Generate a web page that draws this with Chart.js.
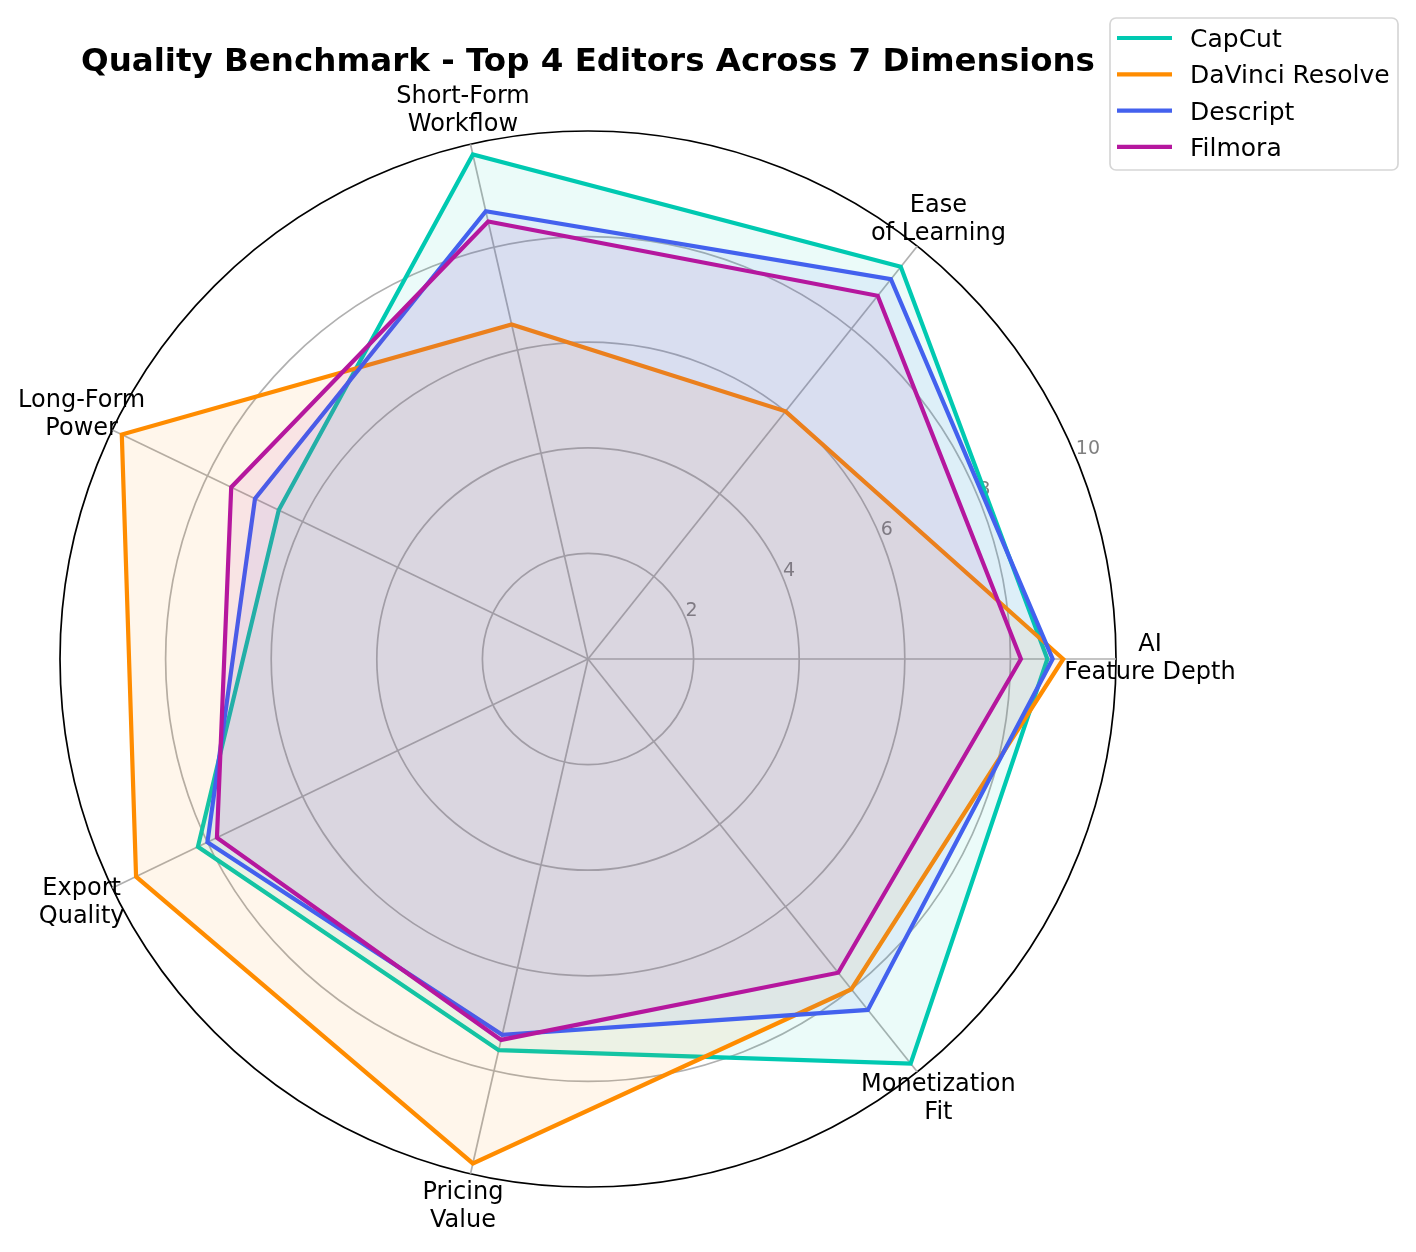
<!DOCTYPE html>
<html>
<head>
<meta charset="utf-8">
<script src="https://cdn.jsdelivr.net/npm/chart.js@4.4.0/dist/chart.umd.min.js"></script>
<style>
  html, body { margin: 0; padding: 0; background: #fff; }
  canvas { display: block; }
</style>
</head>
<body>
<canvas id="chart" width="1416" height="1252"></canvas>
<script>
var title = "Quality Benchmark - Top 4 Editors Across 7 Dimensions";
var dimensions = [
  ["AI", "Feature Depth"],
  ["Ease", "of Learning"],
  ["Short-Form", "Workflow"],
  ["Long-Form", "Power"],
  ["Export", "Quality"],
  ["Pricing", "Value"],
  ["Monetization", "Fit"]
];
var editors = ["CapCut", "DaVinci Resolve", "Descript", "Filmora"];
var capcut = [8.7, 9.5, 9.8, 6.5, 8.2, 7.6, 9.8];
var davinci = [9.0, 6.0, 6.5, 9.8, 9.5, 9.8, 8.0];
var descript = [8.8, 9.2, 8.7, 7.0, 8.0, 7.3, 8.5];
var filmora = [8.2, 8.8, 8.5, 7.5, 7.8, 7.4, 7.6];
var tickValues = [2, 4, 6, 8, 10];

var colors = ["#00C9B1", "#FF8C00", "#4361EE", "#B5179E"];
var fills = ["rgba(0,201,177,0.08)", "rgba(255,140,0,0.08)", "rgba(67,97,238,0.08)", "rgba(181,23,158,0.08)"];

// chart.js goes clockwise from the start angle, the original goes counter-clockwise
var order = [0, 6, 5, 4, 3, 2, 1];
function reorder(arr) {
  return order.map(function (i) { return arr[i]; });
}

Chart.defaults.font.family = "'DejaVu Sans', sans-serif";

var series = [capcut, davinci, descript, filmora];
var datasets = series.map(function (values, i) {
  return {
    label: editors[i],
    data: reorder(values),
    borderColor: colors[i],
    backgroundColor: fills[i],
    borderWidth: 4.2,
    pointRadius: 0,
    fill: true,
    order: series.length - i
  };
});

var decorations = {
  id: "decorations",
  beforeDraw: function (chart) {
    var ctx = chart.ctx;
    ctx.save();
    ctx.fillStyle = "#fff";
    ctx.fillRect(0, 0, chart.width, chart.height);
    ctx.restore();
  },
  beforeDatasetsDraw: function (chart) {
    var ctx = chart.ctx;
    var r = chart.scales.r;
    var a = 22.5 * Math.PI / 180;
    ctx.save();
    ctx.font = "19px 'DejaVu Sans'";
    ctx.fillStyle = "#808080";
    ctx.textAlign = "left";
    ctx.textBaseline = "alphabetic";
    tickValues.forEach(function (v) {
      var d = r.getDistanceFromCenterForValue(v);
      ctx.fillText(String(v), r.xCenter + d * Math.cos(a), r.yCenter - d * Math.sin(a) - 2.5);
    });
    ctx.restore();
  },
  afterDraw: function (chart) {
    var ctx = chart.ctx;
    var r = chart.scales.r;
    ctx.save();

    // axis labels
    ctx.font = "24px 'DejaVu Sans'";
    ctx.fillStyle = "#000";
    ctx.textAlign = "center";
    ctx.textBaseline = "middle";
    var labels = reorder(dimensions);
    labels.forEach(function (lines, i) {
      var p = r.getPointPosition(i, r.drawingArea + 34);
      ctx.fillText(lines[0], p.x, p.y - 14);
      ctx.fillText(lines[1], p.x, p.y + 14);
    });

    // title
    ctx.font = "bold 32.5px 'DejaVu Sans'";
    ctx.textBaseline = "alphabetic";
    ctx.fillText(title, r.xCenter, 71);

    // legend
    ctx.strokeStyle = "#d6d6d6";
    ctx.lineWidth = 1.7;
    ctx.beginPath();
    ctx.roundRect(1110, 18, 288, 152, 6);
    ctx.fillStyle = "rgba(255,255,255,0.8)";
    ctx.fill();
    ctx.stroke();
    ctx.font = "25px 'DejaVu Sans'";
    ctx.textAlign = "left";
    editors.forEach(function (name, i) {
      var y = 38 + i * 36.3;
      ctx.strokeStyle = colors[i];
      ctx.lineWidth = 4.2;
      ctx.beginPath();
      ctx.moveTo(1117, y);
      ctx.lineTo(1172, y);
      ctx.stroke();
      ctx.fillStyle = "#000";
      ctx.fillText(name, 1190, y + 9);
    });
    ctx.restore();
  }
};

var myChart = new Chart(document.getElementById("chart"), {
  type: "radar",
  data: {
    labels: reorder(dimensions),
    datasets: datasets
  },
  options: {
    responsive: false,
    animation: false,
    layout: { padding: { left: 60, right: 300, top: 131, bottom: 65 } },
    elements: { line: { tension: 0, borderJoinStyle: "miter" } },
    plugins: {
      legend: { display: false },
      title: { display: false },
      tooltip: { enabled: false }
    },
    scales: {
      r: {
        min: 0,
        max: 10,
        startAngle: 90,
        ticks: { stepSize: 2, display: false },
        pointLabels: { display: false },
        grid: {
          circular: true,
          color: function (c) { return c.tick && c.tick.value === 10 ? "#000" : "#b0b0b0"; },
          lineWidth: 1.7
        },
        angleLines: { color: "#b0b0b0", lineWidth: 1.7 }
      }
    }
  },
  plugins: [decorations]
});
</script>
</body>
</html>
